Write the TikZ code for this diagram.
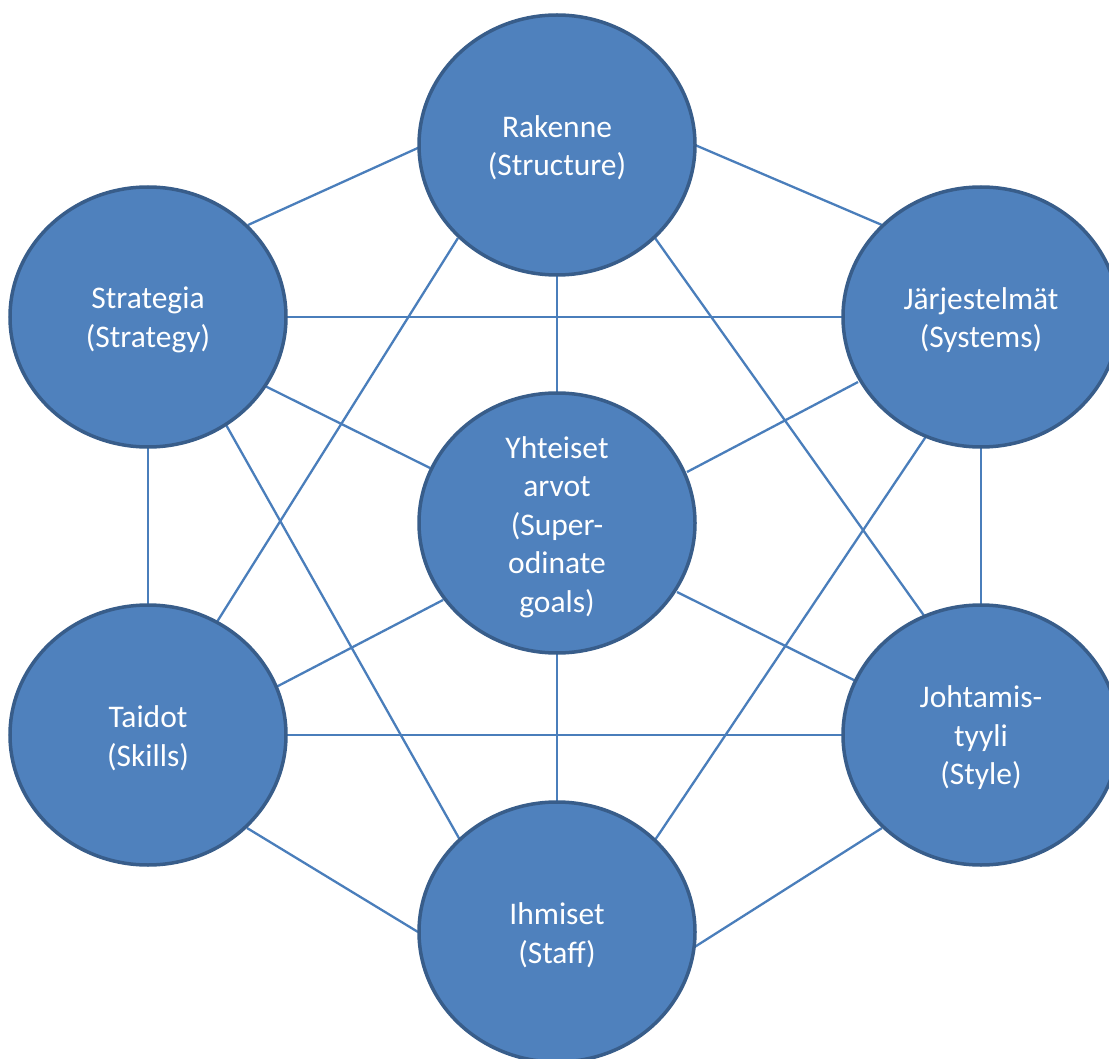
\documentclass[tikz,border=0pt]{standalone}
\usepackage{fontspec}
\setmainfont{Carlito}
\usetikzlibrary{shapes.geometric,calc,backgrounds}
\definecolor{fillblue}{HTML}{4F81BD}
\definecolor{edgeblue}{HTML}{385D8A}
\definecolor{linkblue}{HTML}{4A7EBB}
\begin{document}
\begin{tikzpicture}[x=1pt,y=-1pt,
  blob/.style={ellipse,draw=edgeblue,line width=3.5pt,fill=fillblue,minimum width=276pt,minimum height=260pt,inner sep=0pt},
  txt/.style={text=white,align=center,font=\fontsize{31.5}{38.5}\selectfont,inner sep=0pt,yshift=-3pt},
  link/.style={draw=linkblue,line width=2.3pt}]
\useasboundingbox (0,0) rectangle (1109,1059);
\clip (0,0) rectangle (1109,1059);
\node[blob] (rak) at (557,145) {};
\node[blob] (str) at (148,317) {};
\node[blob] (jar) at (981,317) {};
\node[blob] (yht) at (557,523) {};
\node[blob] (tai) at (148,735) {};
\node[blob] (joh) at (981,735) {};
\node[blob] (ihm) at (557,932) {};
\node[txt] (rakt) at (rak) {Rakenne\\(Structure)};
\node[txt] (strt) at (str) {Strategia\\(Strategy)};
\node[txt] (jart) at (jar) {Järjestelmät\\(Systems)};
\node[txt] (yhtt) at ($(yht)+(0,1)$) {Yhteiset\\arvot\\(Super-\\odinate\\goals)};
\node[txt] (tait) at (tai) {Taidot\\(Skills)};
\node[txt] (joht) at (joh) {Johtamis-\\tyyli\\(Style)};
\node[txt] (ihmt) at (ihm) {Ihmiset\\(Staff)};
\begin{scope}[on background layer]
\draw[link] ($(rak)+(-137,2)$) -- ($(str)+(100,-92)$);
\draw[link] ($(rak)+(138,0)$) -- ($(jar)+(-99,-92)$);
\draw[link] (rak.center) -- (yht.center);
\draw[link] ($(rak)+(-99,93)$) -- ($(tai)+(62,-102)$);
\draw[link] ($(rak)+(98,93)$) -- ($(joh)+(-56,-118)$);
\draw[link] (str.center) -- (jar.center);
\draw[link] ($(str)+(115,68)$) -- ($(yht)+(-127,-55)$);
\draw[link] (str.center) -- (tai.center);
\draw[link] ($(str)+(77,106)$) -- ($(ihm)+(-97,-92)$);
\draw[link] ($(jar)+(-123,65)$) -- ($(yht)+(130,-51)$);
\draw[link] (jar.center) -- (joh.center);
\draw[link] ($(jar)+(-54,118)$) -- ($(ihm)+(98,-92)$);
\draw[link] ($(yht)+(-114,77)$) -- ($(tai)+(107,-37)$);
\draw[link] ($(yht)+(120,69)$) -- ($(joh)+(-61,-22)$);
\draw[link] (yht.center) -- (ihm.center);
\draw[link] (tai.center) -- (joh.center);
\draw[link] ($(tai)+(99,93)$) -- ($(ihm)+(-139,0)$);
\draw[link] ($(joh)+(-99,93)$) -- ($(ihm)+(136,16)$);
\end{scope}
\end{tikzpicture}
\end{document}
